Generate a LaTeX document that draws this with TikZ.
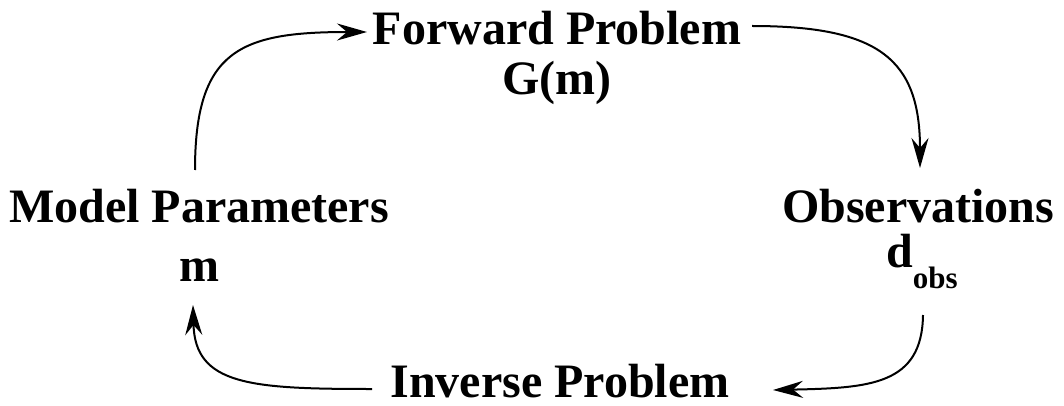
\documentclass[tikz,border=0pt]{standalone}
\usepackage{fontspec}
\setmainfont{Liberation Serif}
\usetikzlibrary{arrows.meta}
\tikzset{
  lbl/.style={anchor=base, inner sep=0pt, font=\fontsize{48}{58}\selectfont\bfseries},
  flow/.style={line width=2pt, -{Stealth[length=30pt,width=17pt,inset=10pt]}}
}
\begin{document}
\begin{tikzpicture}[x=1pt,y=-1pt]
\useasboundingbox (0,0) rectangle (1064,406);
% labels
\node[lbl] (fwd)  at (557,45)  {Forward Problem};
\node[lbl] (fwdg) at (557,95)  {G(m)};
\node[lbl] (mp)   at (199,222) {Model Parameters};
\node[lbl] (mpm)  at (199,281) {m};
\node[lbl] (obs)  at (918,222) {Observations};
\node[lbl] (obsd) at (922,267) {d\raisebox{-21pt}{\fontsize{31}{31}\selectfont obs}};
\node[lbl] (inv)  at (560,397) {Inverse Problem};
% connector end points
\coordinate (a1s) at (195,170);
\coordinate (a1e) at (367,32);
\coordinate (a2s) at (752,26);
\coordinate (a2e) at (920,168);
\coordinate (a3s) at (923,315);
\coordinate (a3e) at (773,390);
\coordinate (a4s) at (372,389);
\coordinate (a4e) at (193,305);
% connectors
\draw[flow] (a1s) .. controls (195,50) and (240,32) .. (a1e);
\draw[flow] (a2s) .. controls (880,26) and (920,60) .. (a2e);
\draw[flow] (a3s) .. controls (922,385) and (870,388) .. (a3e);
\draw[flow] (a4s) .. controls (250,389) and (195,385) .. (a4e);
\end{tikzpicture}
\end{document}
